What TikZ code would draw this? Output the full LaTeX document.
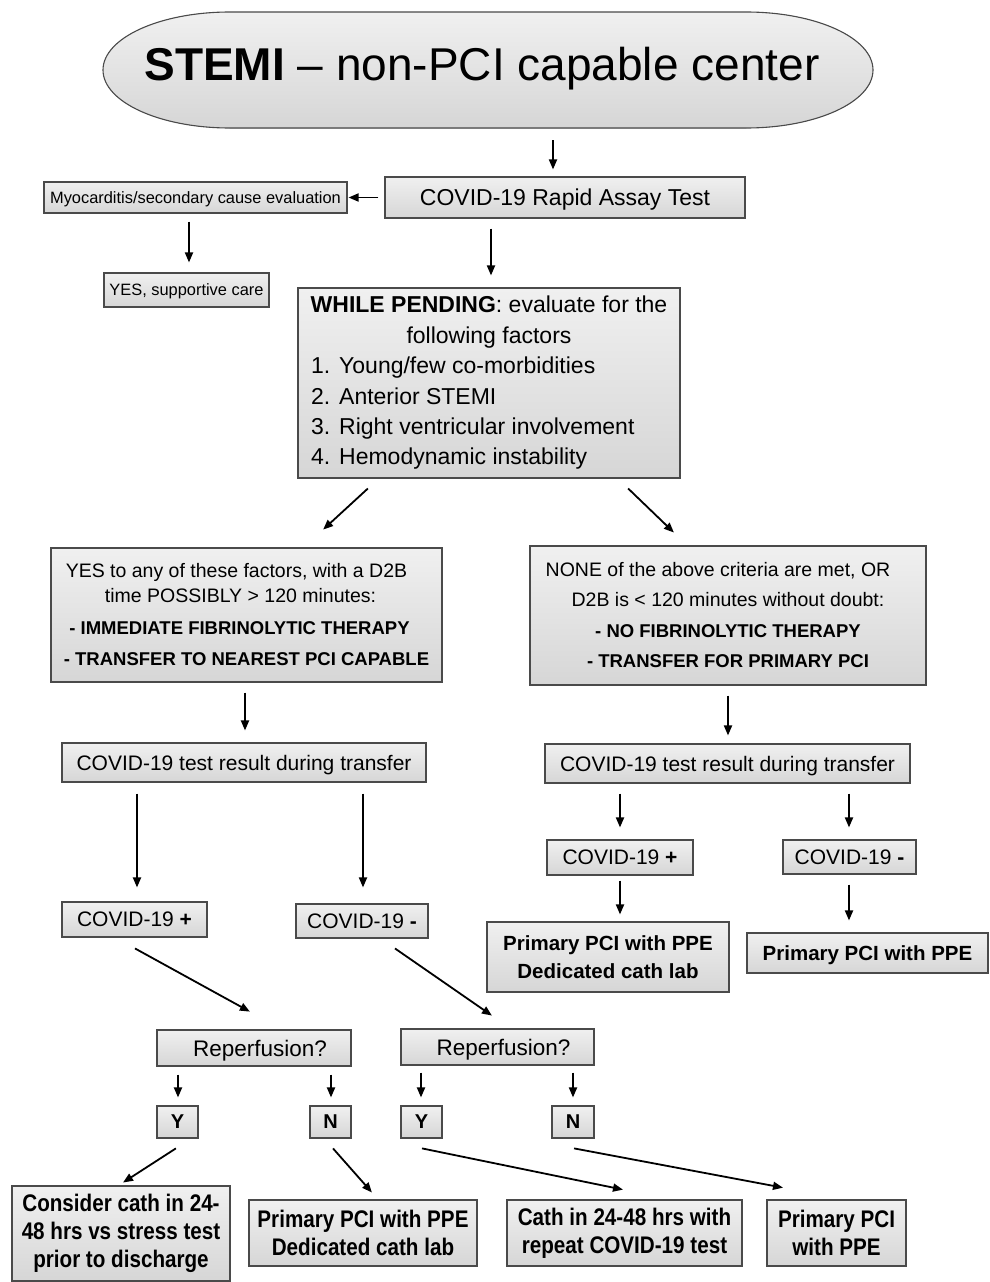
\documentclass[tikz,border=0pt]{standalone}
\usepackage{fontspec}
\setmainfont{Liberation Sans}
\newfontfamily\narrowfont[FakeStretch=0.86]{Liberation Sans}
\usetikzlibrary{arrows.meta}
\definecolor{boxtop}{HTML}{F0F0F0}
\definecolor{boxbot}{HTML}{D6D6D6}
\definecolor{edge}{HTML}{4A4A4A}
\tikzset{
  box/.style={draw=edge, line width=1.1pt, top color=boxtop, bottom color=boxbot, inner sep=0pt, align=center},
  onel/.style={text depth=0pt},
  arr/.style={line width=1.8pt, -{Triangle[length=10pt,width=8pt]}},
  ftitle/.style={font=\fontsize{46}{50}\selectfont},
  fbig/.style={font=\fontsize{23}{28}\selectfont},
  fmid/.style={font=\fontsize{21}{26}\selectfont},
  fsmall/.style={font=\fontsize{16.4}{20}\selectfont},
  fbot/.style={font=\narrowfont\bfseries\fontsize{24}{28}\selectfont},
}
\begin{document}
\begin{tikzpicture}[x=1pt,y=-1pt]
\useasboundingbox (0,0) rectangle (990,1282);
% title
\fill[top color=boxtop, bottom color=boxbot] (230,12) -- (746,12) arc[start angle=-90, end angle=90, x radius=127, y radius=58] -- (230,128) arc[start angle=90, end angle=270, x radius=127, y radius=58] -- cycle;
\draw[edge, line width=1.1pt] (230,12) -- (746,12) arc[start angle=-90, end angle=90, x radius=127, y radius=58] -- (230,128) arc[start angle=90, end angle=270, x radius=127, y radius=58] -- cycle;
\node[minimum width=770pt, minimum height=116pt, inner sep=0pt] (ell) at (488,70) {};
\node[ftitle, inner sep=0pt, text depth=0pt] (title) at (482,64) {\textbf{STEMI} – non-PCI capable center};

\node[box, onel, fbig, minimum width=360pt, minimum height=41pt] (assay) at (565,197.5) {COVID-19 Rapid Assay Test};
\node[box, onel, fsmall, minimum width=303pt, minimum height=31pt] (myo) at (195.5,197.5) {Myocarditis/secondary cause evaluation};
\node[box, onel, fsmall, minimum width=165pt, minimum height=34pt] (yes) at (186.5,290) {YES, supportive care};
\node[box, font=\fontsize{23}{30.4}\selectfont, minimum width=382pt, minimum height=190pt] (pend) at (489,383)
 {\textbf{WHILE PENDING}: evaluate for the\\ following factors\\
  \makebox[356pt][l]{1.\hspace{9pt}Young/few co-morbidities}\\
  \makebox[356pt][l]{2.\hspace{9pt}Anterior STEMI}\\
  \makebox[356pt][l]{3.\hspace{9pt}Right ventricular involvement}\\
  \makebox[356pt][l]{4.\hspace{9pt}Hemodynamic instability}};
\node[box, font=\fontsize{19.5}{25}\selectfont, minimum width=391pt, minimum height=134pt] (yesbox) at (246.5,615)
 {YES to any of these factors, with a D2B\makebox[20pt]{}\\ time POSSIBLY > 120 minutes:\makebox[12pt]{}\\[7pt]
  {\bfseries\fontsize{18.5}{25}\selectfont - IMMEDIATE FIBRINOLYTIC THERAPY}\makebox[14pt]{}\\[6pt]
  {\bfseries\fontsize{18.5}{25}\selectfont - TRANSFER TO NEAREST PCI CAPABLE}};
\node[box, font=\fontsize{19.5}{30}\selectfont, minimum width=396pt, minimum height=139pt] (nonebox) at (728,615.5)
 {NONE of the above criteria are met, OR\makebox[20pt]{}\\ D2B is < 120 minutes without doubt:\\[1pt]
  {\bfseries\fontsize{18.5}{30}\selectfont - NO FIBRINOLYTIC THERAPY}\\
  {\bfseries\fontsize{18.5}{30}\selectfont - TRANSFER FOR PRIMARY PCI}};
\node[box, onel, fmid, minimum width=364pt, minimum height=39pt] (resL) at (244,762.5) {COVID-19 test result during transfer};
\node[box, onel, fmid, minimum width=365pt, minimum height=39pt] (resR) at (727.5,763.5) {COVID-19 test result during transfer};
\node[box, onel, fmid, minimum width=145pt, minimum height=35pt] (posL) at (134.5,919.5) {COVID-19 \textbf{+}};
\node[box, onel, fmid, minimum width=132pt, minimum height=34pt] (negL) at (362,921) {COVID-19 \textbf{-}};
\node[box, onel, fmid, minimum width=146pt, minimum height=35pt] (posR) at (620,857.5) {COVID-19 \textbf{+}};
\node[box, onel, fmid, minimum width=133pt, minimum height=34pt] (negR) at (849.5,857) {COVID-19 \textbf{-}};
\node[box, font=\bfseries\fontsize{20.5}{28}\selectfont, minimum width=242pt, minimum height=70pt] (ppe1) at (608,957) {Primary PCI with PPE\\ Dedicated cath lab};
\node[box, onel, font=\bfseries\fontsize{20.5}{28}\selectfont, minimum width=241pt, minimum height=40pt] (ppe2) at (867.5,953) {Primary PCI with PPE};
\node[box, onel, font=\fontsize{22.5}{27}\selectfont, minimum width=194pt, minimum height=36pt] (repL) at (254,1048) {\hspace{12pt}Reperfusion?};
\node[box, onel, font=\fontsize{22.5}{27}\selectfont, minimum width=193pt, minimum height=36pt] (repR) at (497.5,1047) {\hspace{12pt}Reperfusion?};
\node[box, onel, font=\bfseries\fontsize{20}{24}\selectfont, minimum width=41pt, minimum height=32pt] (Y1) at (177.5,1122) {Y};
\node[box, onel, font=\bfseries\fontsize{20}{24}\selectfont, minimum width=41pt, minimum height=32pt] (N1) at (330.5,1122) {N};
\node[box, onel, font=\bfseries\fontsize{20}{24}\selectfont, minimum width=41pt, minimum height=32pt] (Y2) at (421.5,1122) {Y};
\node[box, onel, font=\bfseries\fontsize{20}{24}\selectfont, minimum width=42pt, minimum height=32pt] (N2) at (573,1122) {N};
\node[box, fbot, minimum width=218pt, minimum height=95pt] (b1) at (121,1233.5) {Consider cath in 24-\\48 hrs vs stress test\\prior to discharge};
\node[box, fbot, minimum width=228pt, minimum height=66pt] (b2) at (363,1233) {Primary PCI with PPE\\Dedicated cath lab};
\node[box, fbot, minimum width=235pt, minimum height=66pt] (b3) at (624.5,1233) {Cath in 24-48 hrs with\\repeat COVID-19 test};
\node[box, fbot, minimum width=139pt, minimum height=66pt] (b4) at (836.5,1233) {Primary PCI\\with PPE};

% arrows
\draw[arr, shorten <=12pt, shorten >=7pt] (ell.south -| 553,0) -- (assay.north -| 553,0);
\draw[arr, shorten <=6pt, shorten >=1pt] (assay.west) -- (myo.east);
\draw[arr, shorten <=8pt, shorten >=10pt] (myo.south -| 189,0) -- (yes.north -| 189,0);
\draw[arr, shorten <=10pt, shorten >=12pt] (assay.south -| 491,0) -- (pend.north -| 491,0);
\draw[arr, shorten <=14.7pt, shorten >=26.4pt] (pend.south -| 378.7,0) -- (yesbox.north -| 303.7,0);
\draw[arr, shorten <=14.3pt, shorten >=18.6pt] (pend.south -| 617.8,0) -- (nonebox.north -| 687.3,0);
\draw[arr, shorten <=10pt, shorten >=12pt] (yesbox.south -| 245,0) -- (resL.north -| 245,0);
\draw[arr, shorten <=10pt, shorten >=8pt] (nonebox.south -| 728,0) -- (resR.north -| 728,0);
\draw[arr, shorten <=11pt, shorten >=14pt] (resL.south -| 137,0) -- (posL.north -| 137,0);
\draw[arr, shorten <=11pt, shorten >=16pt] (resL.south -| 363,0) -- (negL.north -| 363,0);
\draw[arr, shorten <=10pt, shorten >=12pt] (resR.south -| 620,0) -- (posR.north -| 620,0);
\draw[arr, shorten <=10pt, shorten >=12pt] (resR.south -| 849,0) -- (negR.north -| 849,0);
\draw[arr, shorten <=5pt, shorten >=7pt] (posR.south -| 620,0) -- (ppe1.north -| 620,0);
\draw[arr, shorten <=10pt, shorten >=12pt] (negR.south -| 849,0) -- (ppe2.north -| 849,0);
\draw[arr, shorten <=22.6pt, shorten >=37pt] (posL.south -| 115.2,0) -- (repL.north -| 282.3,0);
\draw[arr, shorten <=17.4pt, shorten >=22.6pt] (negL.south -| 380.7,0) -- (repR.north -| 510.5,0);
\draw[arr, shorten <=8pt, shorten >=8pt] (repL.south -| 178,0) -- (Y1.north -| 178,0);
\draw[arr, shorten <=8pt, shorten >=8pt] (repL.south -| 331,0) -- (N1.north -| 331,0);
\draw[arr, shorten <=7pt, shorten >=8pt] (repR.south -| 421,0) -- (Y2.north -| 421,0);
\draw[arr, shorten <=7pt, shorten >=8pt] (repR.south -| 573,0) -- (N2.north -| 573,0);
\draw[arr, shorten <=18.1pt, shorten >=5.4pt] (Y1.south -| 191.1,0) -- (b1.north -| 118.5,0);
\draw[arr, shorten <=13.2pt, shorten >=9.3pt] (N1.south -| 324.3,0) -- (b2.north -| 378.1,0);
\draw[arr, shorten <=48.9pt, shorten >=48.9pt] (Y2.south -| 374.1,0) -- (b3.north -| 670.9,0);
\draw[arr, shorten <=53.2pt, shorten >=63.8pt] (N2.south -| 521.75,0) -- (b4.north -| 845.7,0);
\end{tikzpicture}
\end{document}
